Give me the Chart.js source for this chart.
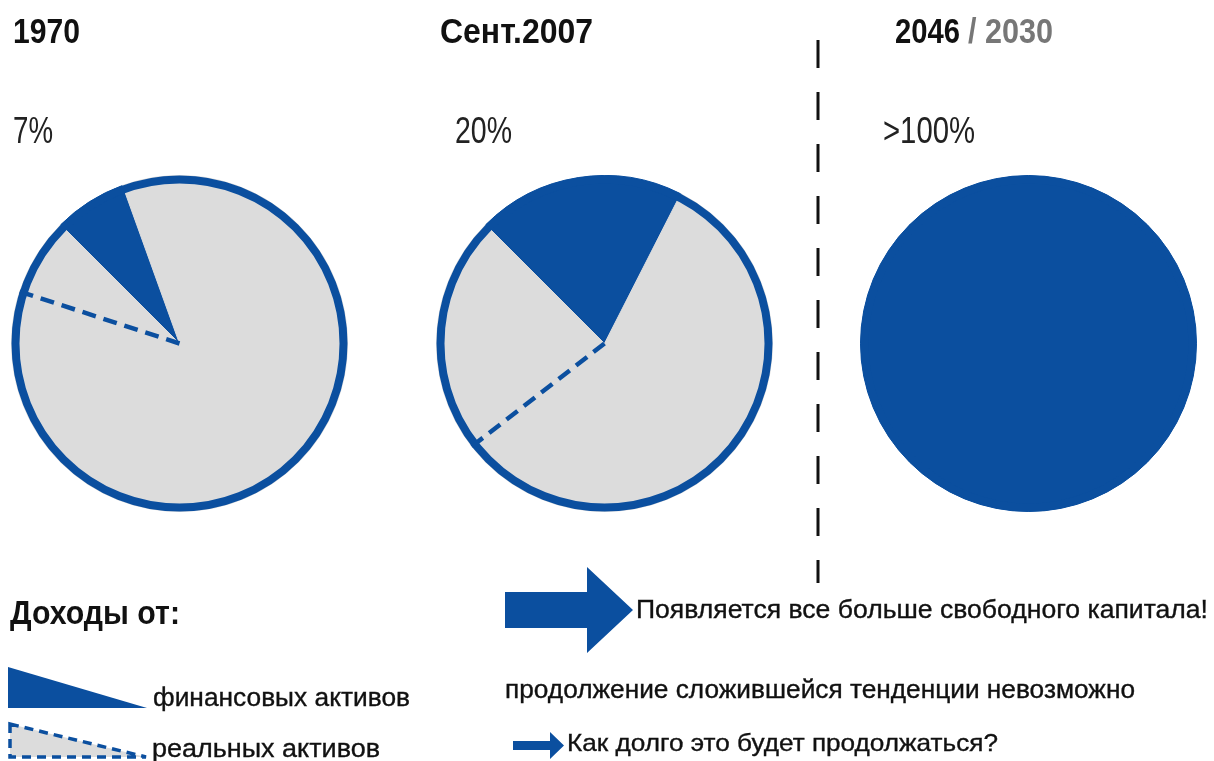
<!DOCTYPE html>
<html lang="ru">
<head>
<meta charset="utf-8">
<script src="https://cdn.jsdelivr.net/npm/chart.js@4.4.0/dist/chart.umd.min.js"></script>
<style>
  html, body { margin: 0; padding: 0; background: #ffffff; }
  #page { position: relative; width: 1214px; height: 761px; overflow: hidden; background: #ffffff; }
  .pie { position: absolute; }
  #overlay { position: absolute; left: 0; top: 0; width: 1214px; height: 761px; }
  text { font-family: "Liberation Sans", Arial, "DejaVu Sans", sans-serif; fill: #111; }
  text.note { stroke: #111; stroke-width: 0.35px; }
</style>
</head>
<body>
<div id="page">
  <div class="pie" id="p0" style="left:11px;top:175px;width:337px;height:337px;"><canvas id="c0"></canvas></div>
  <div class="pie" id="p1" style="left:436px;top:175px;width:337px;height:337px;"><canvas id="c1"></canvas></div>
  <div class="pie" id="p2" style="left:860px;top:175px;width:337px;height:337px;"><canvas id="c2"></canvas></div>
  <svg id="overlay" width="1214" height="761" xmlns="http://www.w3.org/2000/svg">
    <!-- vertical divider -->
    <line x1="818" y1="40" x2="818" y2="583" stroke="#111" stroke-width="3" stroke-dasharray="28 24"/>
    <!-- legend -->
    <text x="10" y="624" font-size="33" font-weight="bold" textLength="170" lengthAdjust="spacingAndGlyphs">Доходы от:</text>
    <polygon points="8,667 8,708 147,708" fill="#0b4f9f"/>
    <text class="note" x="153" y="706" font-size="26" textLength="257" lengthAdjust="spacingAndGlyphs">финансовых активов</text>
    <polygon points="10,724 10,757 146,757" fill="#dcdcdc" stroke="#0b4f9f" stroke-width="3.5" stroke-dasharray="9 6"/>
    <text class="note" x="152" y="757" font-size="26" textLength="228" lengthAdjust="spacingAndGlyphs">реальных активов</text>
    <!-- right notes -->
    <polygon points="505,592 587,592 587,567 633,610 587,653 587,628 505,628" fill="#0b4f9f"/>
    <text class="note" x="636" y="618" font-size="25" textLength="572" lengthAdjust="spacingAndGlyphs">Появляется все больше свободного капитала!</text>
    <text class="note" x="505" y="698" font-size="25" textLength="630" lengthAdjust="spacingAndGlyphs">продолжение сложившейся тенденции невозможно</text>
    <polygon points="513,741 550,741 550,732 564,745.5 550,759 550,750 513,750" fill="#0b4f9f"/>
    <text class="note" x="567" y="751" font-size="24" textLength="431" lengthAdjust="spacingAndGlyphs">Как долго это будет продолжаться?</text>
    <g id="titles"></g>
  </svg>
</div>
<script>
// ---- data ----
const periods = ['1970', 'Сент.2007', '2046'];
const periodAlt = ['', '', '/ 2030'];
const shareLabels = ['7%', '20%', '>100%'];
const segmentNames = ['финансовых активов', 'реальных активов', 'реальных активов (пунктир)'];
const financialShare = [7, 20, 100];
const otherRealShare = [85.5, 57, 0];
const dashedRealShare = [7.5, 23, 0];

// ---- layout (positions only) ----
const BLUE = '#0b4f9f';
const GRAY = '#dcdcdc';
const titleLayout = [
  { x: 13, w: 67, altX: 0, altW: 0 },
  { x: 440, w: 153, altX: 0, altW: 0 },
  { x: 895, w: 65, altX: 968, altW: 85 }
];
const shareLayout = [ { x: 13, w: 40 }, { x: 455, w: 57 }, { x: 883, w: 92 } ];

const svgNS = 'http://www.w3.org/2000/svg';
const g = document.getElementById('titles');
function addText(str, x, y, size, weight, w, color) {
  const t = document.createElementNS(svgNS, 'text');
  t.setAttribute('x', x); t.setAttribute('y', y);
  t.setAttribute('font-size', size);
  t.setAttribute('font-weight', weight);
  if (w) { t.setAttribute('textLength', w); t.setAttribute('lengthAdjust', 'spacingAndGlyphs'); }
  if (color) t.style.fill = color;
  t.textContent = str;
  g.appendChild(t);
}
periods.forEach((p, i) => {
  const L = titleLayout[i];
  addText(p, L.x, 43, 35, 'bold', L.w);
  if (periodAlt[i]) addText(periodAlt[i], L.altX, 43, 35, 'bold', L.altW, '#777777');
  addText(shareLabels[i], shareLayout[i].x, 143, 36, 'normal', shareLayout[i].w, '#222');
});

// ---- plugin: outer ring and dashed boundary ----
const ringPlugin = {
  id: 'ringAndDash',
  afterDatasetsDraw(chart) {
    const arcs = chart.getDatasetMeta(0).data;
    if (!arcs.length) return;
    const base = arcs[0].getProps(['x', 'y', 'outerRadius'], true);
    const ctx = chart.ctx;
    ctx.save();
    ctx.strokeStyle = BLUE;
    const d = arcs[2].getProps(['startAngle', 'endAngle'], true);
    if (d.endAngle - d.startAngle > 0.001) {
      ctx.setLineDash([14, 8]);
      ctx.lineWidth = 4.5;
      ctx.beginPath();
      ctx.moveTo(base.x, base.y);
      ctx.lineTo(base.x + base.outerRadius * Math.cos(d.startAngle), base.y + base.outerRadius * Math.sin(d.startAngle));
      ctx.stroke();
    }
    ctx.setLineDash([]);
    ctx.lineWidth = 8;
    ctx.beginPath();
    ctx.arc(base.x, base.y, base.outerRadius - 4, 0, Math.PI * 2);
    ctx.stroke();
    ctx.restore();
  }
};

periods.forEach((p, i) => {
  const colors = [BLUE, GRAY, GRAY];
  new Chart(document.getElementById('c' + i), {
    type: 'pie',
    data: {
      labels: segmentNames,
      datasets: [{
        data: [financialShare[i], otherRealShare[i], dashedRealShare[i]],
        backgroundColor: colors,
        borderColor: colors,
        borderWidth: 1,
        hoverOffset: 0,
        offset: 0
      }]
    },
    options: {
      responsive: true,
      maintainAspectRatio: false,
      animation: false,
      rotation: 315,
      layout: { padding: 0 },
      plugins: { legend: { display: false }, tooltip: { enabled: false }, title: { display: false } },
      events: []
    },
    plugins: [ringPlugin]
  });
});
</script>
</body>
</html>
